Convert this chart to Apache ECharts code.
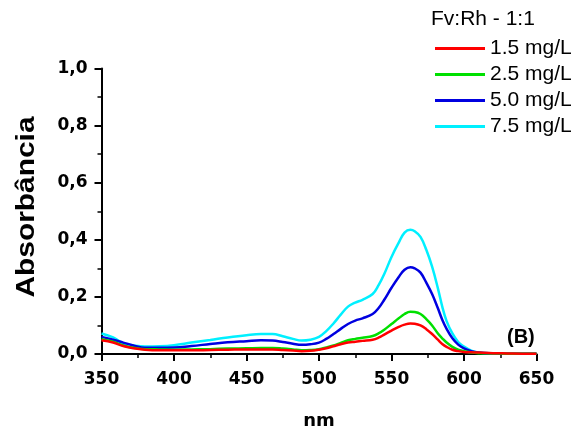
<!DOCTYPE html>
<html><head><meta charset="utf-8">
<script src="https://cdn.jsdelivr.net/npm/echarts@6/dist/echarts.min.js"></script>
<style>html,body{margin:0;padding:0;background:#fff}#c{width:582px;height:428px}</style>
</head><body><div id="c"></div>
<script>
const wavelengths = [350,358,365,372,380,390,400,412,425,437,450,460,468,475,482,488,494,500,505,510,515,520,525,530,537,541,545,550,555,559,563,566,570,574,578,582,585,588,592,596,600,605,610,620,630,640,650];
const a15 = [0.048,0.040,0.028,0.020,0.015,0.013,0.013,0.013,0.014,0.015,0.016,0.016,0.016,0.014,0.012,0.010,0.011,0.015,0.020,0.027,0.034,0.040,0.043,0.046,0.050,0.057,0.068,0.082,0.095,0.103,0.107,0.106,0.100,0.087,0.070,0.050,0.035,0.025,0.015,0.010,0.007,0.006,0.005,0.003,0.002,0.001,0.001];
const a25 = [0.052,0.043,0.030,0.022,0.017,0.016,0.015,0.016,0.017,0.019,0.020,0.021,0.021,0.019,0.016,0.013,0.014,0.017,0.023,0.030,0.039,0.048,0.053,0.057,0.063,0.072,0.085,0.105,0.125,0.140,0.148,0.147,0.140,0.122,0.100,0.072,0.055,0.040,0.025,0.015,0.010,0.005,0.003,0.002,0.001,0.001,0.001];
const a50 = [0.060,0.050,0.040,0.030,0.022,0.022,0.023,0.028,0.035,0.041,0.045,0.048,0.047,0.042,0.036,0.032,0.034,0.040,0.053,0.070,0.088,0.105,0.117,0.125,0.140,0.160,0.190,0.232,0.270,0.295,0.304,0.300,0.285,0.250,0.210,0.160,0.120,0.088,0.055,0.033,0.020,0.010,0.005,0.002,0.001,0.001,0.001];
const a75 = [0.072,0.058,0.037,0.030,0.026,0.027,0.031,0.040,0.049,0.058,0.066,0.070,0.070,0.062,0.053,0.047,0.050,0.060,0.080,0.107,0.138,0.166,0.180,0.190,0.210,0.240,0.280,0.340,0.390,0.425,0.435,0.430,0.410,0.365,0.306,0.230,0.166,0.115,0.072,0.042,0.026,0.012,0.005,0.002,0.001,0.001,0.001];
const seriesNames = ['1.5 mg/L','2.5 mg/L','5.0 mg/L','7.5 mg/L'];
const seriesColors = ['#ff0000','#00e000','#0000e0','#00f0ff'];
const seriesValues = [a15,a25,a50,a75];
const yAxisTitle = 'Absorbância';
const xAxisTitle = 'nm';
const legendTitle = 'Fv:Rh - 1:1';
const panelLabel = '(B)';

const chart = echarts.init(document.getElementById('c'), null, {renderer:'canvas'});
const font = '"Liberation Sans", Arial, sans-serif';
const tickFont = '"DejaVu Sans", sans-serif';
const axisCommon = {
  axisLine:{show:true,lineStyle:{color:'#000',width:2}},
  axisTick:{show:true,inside:false,length:7,lineStyle:{color:'#000',width:2}},
  minorTick:{show:true,splitNumber:2,length:4,lineStyle:{color:'#000',width:1.5}},
  splitLine:{show:false},
  axisLabel:{color:'#000',fontFamily:tickFont,fontWeight:'bold',fontSize:17}
};
chart.setOption({
  animation:false,
  backgroundColor:'#fff',
  grid:{left:101.5,right:45.5,top:68.5,bottom:74,containLabel:false,outerBoundsMode:'none'},
  legend:{
    orient:'vertical', left:430, top:33, itemWidth:50, itemHeight:3, itemGap:5,
    icon:'rect',
    data:seriesNames,
    textStyle:{fontFamily:font,fontSize:21,color:'#000',lineHeight:21}
  },
  graphic:[
    {type:'text',left:431,top:9,style:{text:legendTitle,font:'21px '+font,fill:'#000'}},
    {type:'text',left:507,top:327,style:{text:panelLabel,font:'bold 20px '+font,fill:'#000'}},
    {type:'text',x:27,y:207,rotation:Math.PI/2,scaleX:1.15,
      style:{text:yAxisTitle,font:'bold 26px '+font,fill:'#000',align:'center',verticalAlign:'middle'}}
  ],
  xAxis:Object.assign({}, axisCommon, {
    type:'value', min:350, max:650, interval:50,
    name:xAxisTitle, nameLocation:'middle', nameGap:58,
    nameTextStyle:{fontFamily:tickFont,fontWeight:'bold',fontSize:18,color:'#000'},
    axisLabel:Object.assign({}, axisCommon.axisLabel,{margin:17})
  }),
  yAxis:Object.assign({}, axisCommon, {
    type:'value', min:0, max:1.0, interval:0.2,
    axisLabel:Object.assign({}, axisCommon.axisLabel,{margin:14,formatter:v=>v.toFixed(1).replace('.',',')})
  }),
  series:seriesValues.map((vals,i)=>({
    name:seriesNames[i], type:'line', smooth:0.4, showSymbol:false, symbol:'none',
    data:wavelengths.map((w,j)=>[w,vals[j]]),
    lineStyle:{color:seriesColors[i],width:2.5},
    itemStyle:{color:seriesColors[i]},
    z: 4-i
  }))
});
</script></body></html>
